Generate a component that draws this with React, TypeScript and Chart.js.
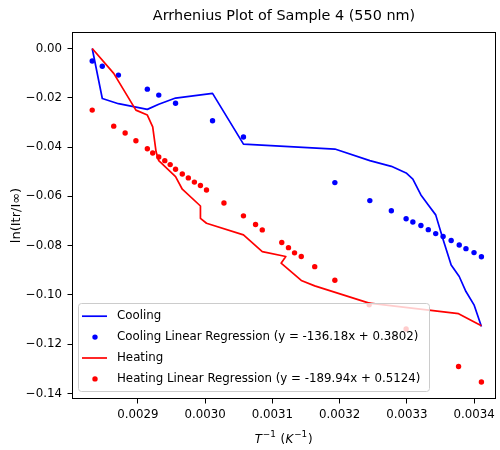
import React, { useEffect, useRef } from "react";
import { Chart, registerables } from "chart.js";

Chart.register(...registerables);

// ---- data ----
const coolingX = [0.002832, 0.002847, 0.002871, 0.002914, 0.002931, 0.002956, 0.003011, 0.003057, 0.003193, 0.003245, 0.003277, 0.003299, 0.003309, 0.003321, 0.003332, 0.003343, 0.003354, 0.003366, 0.003378, 0.003388, 0.0034, 0.003411];
const coolingLineY = [0.0, -0.0203, -0.0224, -0.0247, -0.0226, -0.0201, -0.0182, -0.0388, -0.0408, -0.0455, -0.0478, -0.0505, -0.053, -0.0594, -0.0635, -0.0675, -0.0775, -0.0878, -0.0925, -0.0986, -0.104, -0.1128];
const coolingDotY = [-0.0051, -0.0072, -0.0108, -0.0165, -0.0189, -0.0222, -0.0293, -0.0359, -0.0544, -0.0617, -0.0658, -0.0691, -0.0704, -0.0718, -0.0735, -0.0751, -0.0763, -0.0779, -0.0797, -0.0812, -0.0828, -0.0845];

const heatingDotX = [0.002832, 0.002864, 0.002881, 0.002897, 0.002914, 0.002922, 0.002931, 0.00294, 0.002948, 0.002956, 0.002966, 0.002975, 0.002984, 0.002993, 0.003002, 0.003028, 0.003057, 0.003075, 0.003085, 0.003114, 0.003124, 0.003133, 0.003143, 0.003163, 0.003193, 0.003244, 0.003299, 0.003377, 0.003411];
const heatingDotY = [-0.025, -0.0315, -0.0343, -0.0374, -0.0407, -0.0424, -0.044, -0.0455, -0.0471, -0.049, -0.0509, -0.0525, -0.0542, -0.0556, -0.0574, -0.0627, -0.0679, -0.0714, -0.0736, -0.0787, -0.0808, -0.0829, -0.0844, -0.0885, -0.094, -0.104, -0.1138, -0.129, -0.1353];

const heatingLineX = [0.002832, 0.002864, 0.002897, 0.002914, 0.002922, 0.002927, 0.002931, 0.002956, 0.002966, 0.002993, 0.002993, 0.003002, 0.003057, 0.003085, 0.00312, 0.003113, 0.003143, 0.003163, 0.003244, 0.003377, 0.003411];
const heatingLineY = [0.0, -0.0101, -0.025, -0.027, -0.0318, -0.0419, -0.0455, -0.052, -0.0571, -0.0639, -0.0689, -0.0709, -0.0756, -0.0824, -0.0844, -0.0871, -0.0941, -0.0963, -0.1033, -0.1076, -0.1125];

const xTicks = [0.0029, 0.003, 0.0031, 0.0032, 0.0033, 0.0034];
const yTicks = [0, -0.02, -0.04, -0.06, -0.08, -0.1, -0.12, -0.14];

const labels = [
  "Cooling",
  "Cooling Linear Regression (y = -136.18x + 0.3802)",
  "Heating",
  "Heating Linear Regression (y = -189.94x + 0.5124)",
];
const titleText = "Arrhenius Plot of Sample 4 (550 nm)";
// x-axis title pieces: [text, kind] where kind: "it" italic, "sup" superscript, "rm" upright
const xTitleParts: [string, string][] = [
  ["T", "it"],
  ["\u22121", "sup"],
  [" (", "rm"],
  ["K", "it"],
  ["\u22121", "sup"],
  [")", "rm"],
];
const yTitle = "ln(Itr/I\u221e)";

const FONT = "'DejaVu Sans', sans-serif";
const FS = 11.8;

const zip = (xs: number[], ys: number[]) => xs.map((x, i) => ({ x, y: ys[i] }));

const frameAndLegend = {
  id: "frameAndLegend",
  afterDatasetsDraw(chart: any) {
    const { ctx, chartArea } = chart;
    ctx.save();
    // frame
    ctx.strokeStyle = "#000";
    ctx.lineWidth = 1;
    ctx.strokeRect(
      Math.round(chartArea.left) + 0.5,
      Math.round(chartArea.top) + 0.5,
      Math.round(chartArea.right - chartArea.left) - 1,
      Math.round(chartArea.bottom - chartArea.top) - 1
    );
    // legend
    const lx = chartArea.left + 6.5;
    const ly = chartArea.bottom - 95.5;
    const lw = 351;
    const lh = 88;
    ctx.beginPath();
    ctx.roundRect(lx, ly, lw, lh, 3);
    ctx.fillStyle = "rgba(255,255,255,0.8)";
    ctx.fill();
    ctx.strokeStyle = "#cccccc";
    ctx.lineWidth = 1;
    ctx.stroke();
    ctx.font = `${FS}px ${FONT}`;
    ctx.textBaseline = "middle";
    ctx.textAlign = "left";
    chart.data.datasets.forEach((ds: any, i: number) => {
      const yy = ly + 12.7 + i * 20.9;
      const color = ds.borderColor;
      if (ds.showLine) {
        ctx.beginPath();
        ctx.strokeStyle = color;
        ctx.lineWidth = 1.7;
        ctx.moveTo(lx + 3.5, yy);
        ctx.lineTo(lx + 28.5, yy);
        ctx.stroke();
      } else {
        ctx.beginPath();
        ctx.fillStyle = ds.backgroundColor;
        ctx.arc(lx + 16.5, yy, 2.7, 0, Math.PI * 2);
        ctx.fill();
      }
      ctx.fillStyle = "#000";
      ctx.fillText(ds.label, lx + 38.5, yy);
    });
    ctx.restore();
  },
  afterDraw(chart: any) {
    // x-axis title with superscripts (mathtext-like)
    const { ctx, chartArea } = chart;
    ctx.save();
    ctx.fillStyle = "#000";
    ctx.textBaseline = "alphabetic";
    ctx.textAlign = "left";
    const fontFor = (kind: string) =>
      kind === "it" ? `italic ${FS}px ${FONT}` : kind === "sup" ? `${FS * 0.75}px ${FONT}` : `${FS}px ${FONT}`;
    const gap = (kind: string) => (kind === "it" ? 0.8 : kind === "sup" ? 0.8 : 0.6);
    let total = 0;
    const widths = xTitleParts.map(([t, k]) => {
      ctx.font = fontFor(k);
      const w = ctx.measureText(t).width + gap(k);
      total += w;
      return w;
    });
    const cx = (chartArea.left + chartArea.right) / 2;
    let x = cx - total / 2;
    const base = 442.5;
    xTitleParts.forEach(([t, k], i) => {
      ctx.font = fontFor(k);
      ctx.fillText(t, x, k === "sup" ? base - 5.8 : base);
      x += widths[i];
    });
    ctx.restore();
  },
};

export default function App() {
  const ref = useRef<HTMLCanvasElement | null>(null);
  useEffect(() => {
    if (!ref.current) return;
    const chart = new Chart(ref.current, {
      type: "scatter",
      data: {
        datasets: [
          {
            label: labels[0],
            data: zip(coolingX, coolingLineY),
            showLine: true,
            borderColor: "#0000ff",
            backgroundColor: "#0000ff",
            borderWidth: 1.7,
            pointRadius: 0,
            borderJoinStyle: "round",
            order: 4,
          },
          {
            label: labels[1],
            data: zip(coolingX, coolingDotY),
            showLine: false,
            borderColor: "#0000ff",
            backgroundColor: "#0000ff",
            borderWidth: 0,
            pointRadius: 2.7,
            order: 3,
          },
          {
            label: labels[2],
            data: zip(heatingLineX, heatingLineY),
            showLine: true,
            borderColor: "#ff0000",
            backgroundColor: "#ff0000",
            borderWidth: 1.7,
            pointRadius: 0,
            borderJoinStyle: "round",
            order: 2,
          },
          {
            label: labels[3],
            data: zip(heatingDotX, heatingDotY),
            showLine: false,
            borderColor: "#ff0000",
            backgroundColor: "#ff0000",
            borderWidth: 0,
            pointRadius: 2.7,
            order: 1,
          },
        ],
      } as any,
      options: {
        responsive: false,
        animation: false,
        devicePixelRatio: 1,
        layout: { padding: { left: 0, right: 3, top: 0, bottom: 0 } },
        plugins: {
          legend: { display: false },
          tooltip: { enabled: false },
          title: {
            display: true,
            text: titleText,
            fullSize: false,
            color: "#000",
            font: { family: FONT, size: 14.4, weight: "normal" },
            padding: { top: 7.8, bottom: 6.9 },
          },
        },
        scales: {
          x: {
            type: "linear",
            min: 0.00280193,
            max: 0.0034327,
            afterFit: (s: any) => {
              s.height = 51;
            },
            afterBuildTicks: (s: any) => {
              s.ticks = xTicks.map((v) => ({ value: v }));
            },
            border: { display: false },
            grid: {
              drawOnChartArea: false,
              drawTicks: true,
              tickLength: 4.5,
              tickColor: "#000",
              tickWidth: 1,
            },
            ticks: {
              color: "#000",
              padding: 4.5,
              maxRotation: 0,
              font: { family: FONT, size: FS },
              callback: (v: any) => Number(v).toFixed(4),
            },
            title: { display: false },
          },
          y: {
            type: "linear",
            min: -0.1422,
            max: 0.0067,
            afterFit: (s: any) => {
              s.width = 72;
            },
            afterBuildTicks: (s: any) => {
              s.ticks = yTicks.map((v) => ({ value: v }));
            },
            border: { display: false },
            grid: {
              drawOnChartArea: false,
              drawTicks: true,
              tickLength: 4.5,
              tickColor: "#000",
              tickWidth: 1,
            },
            ticks: {
              color: "#000",
              padding: 5.5,
              font: { family: FONT, size: FS },
              callback: (v: any) => {
                const n = Number(v);
                if (Math.abs(n) < 1e-9) return "0.00";
                return (n < 0 ? "\u2212" : "") + Math.abs(n).toFixed(2);
              },
            },
            title: {
              display: true,
              text: yTitle,
              color: "#000",
              font: { family: FONT, size: 13 },
              padding: { top: 9, bottom: 0 },
            },
          },
        },
      } as any,
      plugins: [frameAndLegend],
    });
    return () => chart.destroy();
  }, []);

  return (
    <div style={{ position: "absolute", left: 0, top: 0, width: 500, height: 450, background: "#fff" }}>
      <canvas ref={ref} width={500} height={450} style={{ display: "block", width: 500, height: 450 }} />
    </div>
  );
}
